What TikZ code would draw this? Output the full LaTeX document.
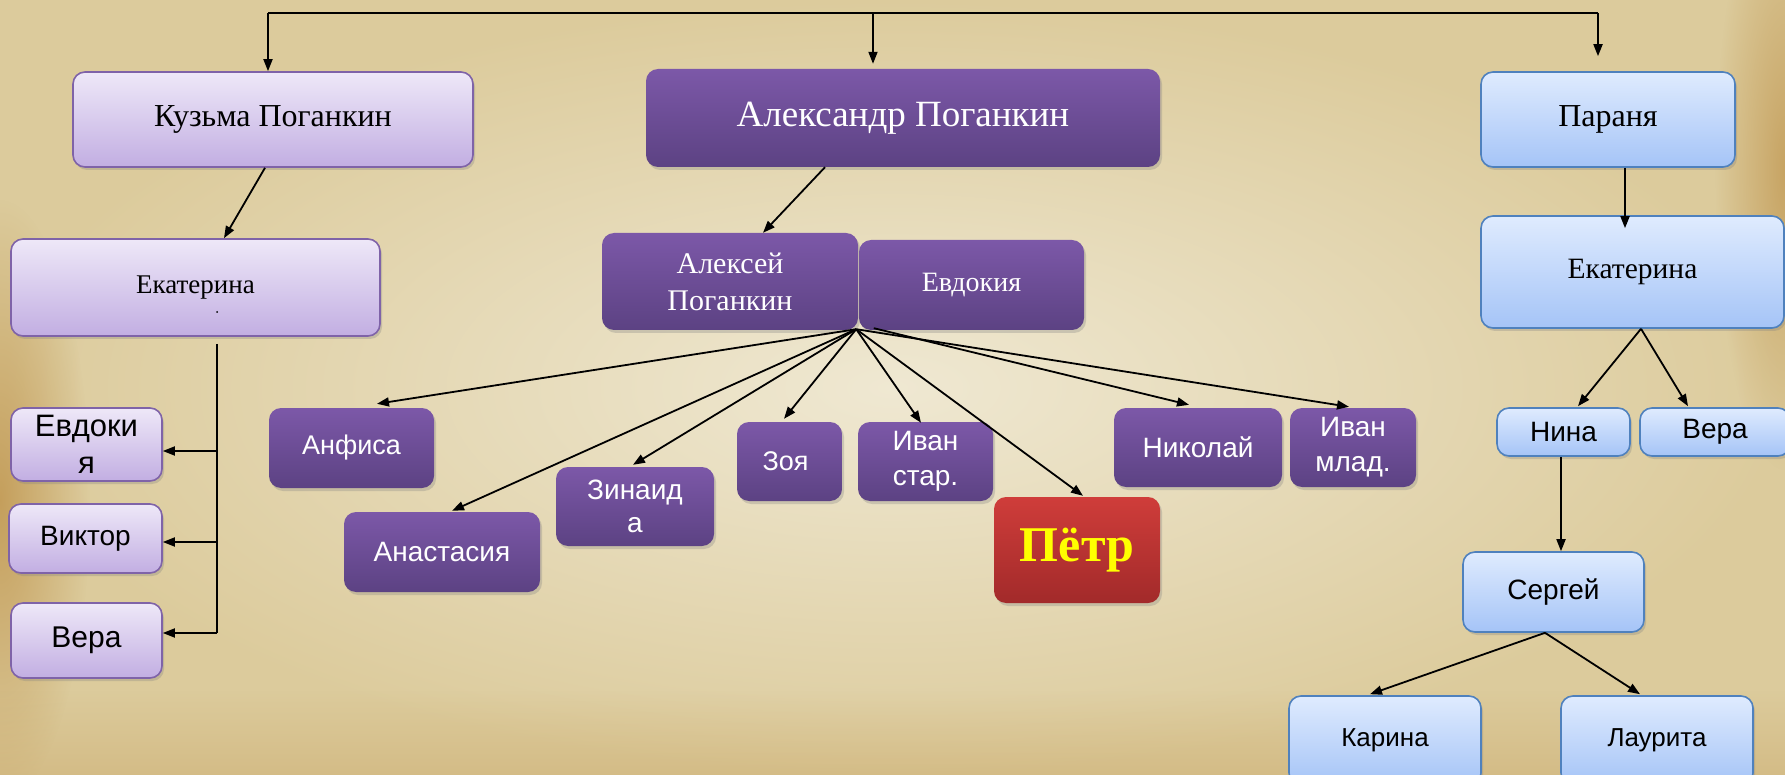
\documentclass[tikz,border=0pt]{standalone}
\usepackage{fontspec}
\setmainfont{Liberation Serif}
\setsansfont{Liberation Sans}
\usetikzlibrary{arrows.meta,shadows,calc,fadings}
\tikzfading[name=softc, inner color=transparent!0, outer color=transparent!100]
\definecolor{lptop}{HTML}{EEE8F8}
\definecolor{lpbot}{HTML}{C2AEE2}
\definecolor{lpborder}{HTML}{7F63A8}
\definecolor{dptop}{HTML}{7C58A8}
\definecolor{dpbot}{HTML}{5C4283}
\definecolor{bltop}{HTML}{DFEBFE}
\definecolor{blbot}{HTML}{A5C4F7}
\definecolor{blborder}{HTML}{4F81BD}
\definecolor{rdtop}{HTML}{CF3D3A}
\definecolor{rdbot}{HTML}{A22A2A}
\definecolor{pyel}{HTML}{FFFF00}
\definecolor{bgin}{HTML}{EFE8D2}
\definecolor{bgout}{HTML}{DCCB9C}
\definecolor{edgecol}{HTML}{C29A55}
\tikzset{
  box/.style={rounded corners=12pt, align=center, inner sep=0pt,
    drop shadow={shadow xshift=2pt, shadow yshift=-3pt, opacity=0.3}},
  lp/.style={box, draw=lpborder, line width=1.6pt, top color=lptop, bottom color=lpbot, text=black},
  dp/.style={box, top color=dptop, bottom color=dpbot, text=white},
  bl/.style={box, draw=blborder, line width=1.6pt, top color=bltop, bottom color=blbot, text=black},
  rd/.style={box, top color=rdtop, bottom color=rdbot, text=pyel},
  sf/.style 2 args={font=\sffamily\fontsize{#1}{#2}\selectfont},
  rm/.style 2 args={font=\rmfamily\fontsize{#1}{#2}\selectfont},
  line/.style={line width=1.8pt, black},
  arr/.style={line, -{Triangle[length=12pt,width=9pt]}}
}
\begin{document}
\begin{tikzpicture}[x=1pt,y=-1pt]
\useasboundingbox (0,0) rectangle (1785,775);
\clip (0,0) rectangle (1785,775);
\shade[inner color=bgin, outer color=bgout] (0,0) rectangle (1785,775);
\fill[edgecol, path fading=softc, fill opacity=0.9] (0,500) ellipse [x radius=90, y radius=300];
\fill[edgecol, path fading=softc, fill opacity=0.8] (1785,170) ellipse [x radius=70, y radius=300];
\fill[edgecol, path fading=north, fill opacity=0.3] (0,690) rectangle (1785,775);

% top generation
\node[lp, minimum width=400, minimum height=95, rm={32}{38}] (kuz) at (273,119.5) {Кузьма Поганкин};
\node[dp, minimum width=514, minimum height=98, rm={37}{44}] (alex) at (903,118) {Александр Поганкин};
\node[bl, minimum width=254, minimum height=95, rm={32}{38}] (par) at (1608,119.5) {Параня};

% second generation
\node[lp, minimum width=369, minimum height=97, rm={27}{32}] (ekL) at (195.5,287.5) {Екатерина};
\node[dp, minimum width=256, minimum height=97, rm={30}{37}] (alexey) at (730,281.5) {Алексей\\Поганкин};
\node[dp, minimum width=225, minimum height=90, rm={28}{34}] (evdM) at (971.5,285) {Евдокия};
\node[bl, minimum width=303, minimum height=112, rm={29.5}{35}] (ekR) at (1632.5,272) {Екатерина};
\fill (217,312) circle (1);

% left children
\node[lp, minimum width=151, minimum height=73, sf={31}{37}] (evdS) at (86.5,444.5) {Евдоки\\я};
\node[lp, minimum width=153, minimum height=69, sf={28}{34}] (vik) at (85.5,538.5) {Виктор};
\node[lp, minimum width=151, minimum height=75, sf={30}{36}] (veraL) at (86.5,640.5) {Вера};

% middle children
\node[dp, minimum width=165, minimum height=80, sf={27}{33}] (anf) at (351.5,448) {Анфиса};
\node[dp, minimum width=196, minimum height=80, sf={28}{34}] (anas) at (442,552) {Анастасия};
\node[dp, minimum width=158, minimum height=79, sf={28}{33}] (zin) at (635,506.5) {Зинаид\\а};
\node[dp, minimum width=105, minimum height=79, sf={27}{33}] (zoya) at (789.5,461.5) {Зоя\hspace{8pt}};
\node[dp, minimum width=135, minimum height=79, sf={28}{35}] (ivS) at (925.5,461.5) {Иван\\стар.};
\node[rd, minimum width=166, minimum height=106, font=\rmfamily\bfseries\fontsize{50}{56}\selectfont] (petr) at (1077,550) {Пётр};
\node[dp, minimum width=168, minimum height=79, sf={28}{34}] (nik) at (1198,447.5) {Николай};
\node[dp, minimum width=126, minimum height=79, sf={28}{35}] (ivM) at (1353,447.5) {Иван\\млад.};

% right children
\node[bl, minimum width=133, minimum height=48, sf={28}{34}] (nina) at (1563.5,432) {Нина};
\node[bl, minimum width=150, minimum height=48, sf={28}{34}] (veraR) at (1715,432) {Вера};
\node[bl, minimum width=181, minimum height=80, sf={28}{34}] (serg) at (1553.5,592) {Сергей};
\node[bl, minimum width=192, minimum height=89, sf={26}{32}] (kar) at (1385,740.5) {Карина};
\node[bl, minimum width=192, minimum height=89, sf={26}{32}] (laur) at (1657,740.5) {Лаурита};

% top connector
\coordinate (t1) at (268,13);
\coordinate (t2) at (873,13);
\coordinate (t3) at (1598,13);
\draw[line] (t1) -- (t3);
\draw[arr] (t1) -- (t1 |- kuz.north);
\draw[arr] (t2) -- ($(t2 |- alex.north)+(0,-5)$);
\draw[arr] (t3) -- ($(t3 |- par.north)+(0,-15)$);

% parents to second generation
\draw[arr] ($(kuz.south)+(-8,0)$) -- ($(ekL.north)+(28.5,0)$);
\draw[arr] ($(alex.south)+(-78,0)$) -- ($(alexey.north)+(33,0)$);
\draw[arr] ($(par.south)+(17,0)$) -- ($(ekR.north)+(-7.5,13)$);

% left bracket
\coordinate (bt) at (217,344);
\coordinate (bb) at (217,633);
\coordinate (b1) at (217,451);
\coordinate (b2) at (217,542);
\draw[line] (bt) -- (bb);
\draw[arr] (b1) -- (b1 -| evdS.east);
\draw[arr] (b2) -- (b2 -| vik.east);
\draw[arr] (bb) -- (bb -| veraL.east);

% fan from Алексей / Евдокия
\coordinate (f1) at ($(alexey.south east)+(-2,-1)$);
\coordinate (f2) at ($(evdM.south west)+(15,-2)$);
\draw[arr] (f1) -- ($(anf.north)+(25.5,-4)$);
\draw[arr] (f1) -- ($(anas.north)+(10,-1)$);
\draw[arr] (f1) -- ($(zin.north)+(-2,-2)$);
\draw[arr] (f1) -- ($(zoya.north)+(-5.5,-3)$);
\draw[arr] (f1) -- ($(ivS.north)+(-4.5,1)$);
\draw[arr] (f1) -- ($(petr.north)+(6,-1)$);
\draw[arr] (f2) -- ($(nik.north)+(-9,-3)$);
\draw[arr] (f1) -- ($(ivM.north)+(-4,-1)$);

% right branch
\coordinate (r1) at ($(ekR.south)+(8.5,0)$);
\draw[arr] (r1) -- ($(nina.north)+(14.5,-1)$);
\draw[arr] (r1) -- ($(veraR.north)+(-27,-1)$);
\draw[arr] ($(nina.south)+(-2.5,0)$) -- ($(nina.south |- serg.north)+(-2.5,0)$);
\coordinate (s1) at ($(serg.south)+(-8.5,0)$);
\draw[arr] (s1) -- ($(kar.north)+(-15,-1)$);
\draw[arr] (s1) -- ($(laur.north)+(-17,-1)$);
\end{tikzpicture}
\end{document}
